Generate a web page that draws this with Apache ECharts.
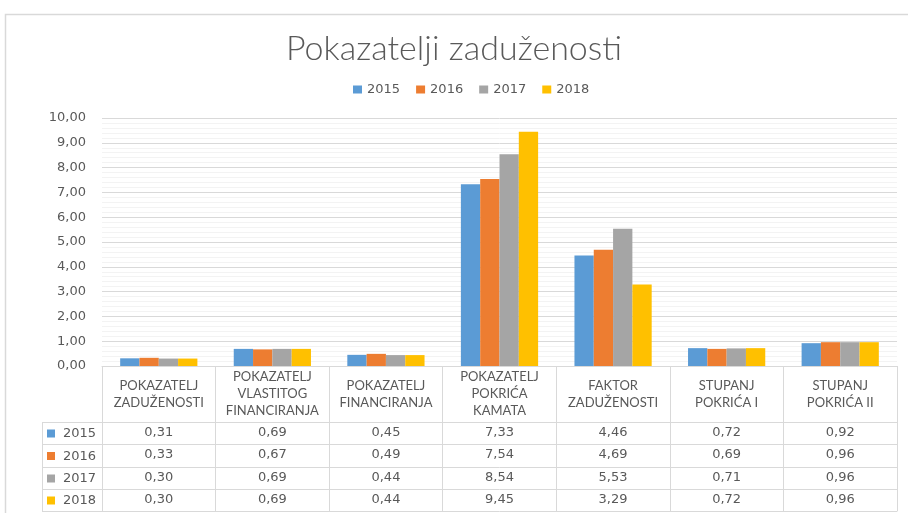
<!DOCTYPE html>
<html>
<head>
<meta charset="utf-8">
<script src="https://cdn.jsdelivr.net/npm/echarts@6/dist/echarts.min.js"></script>
<style>
  html, body { margin: 0; padding: 0; background: #fff; }
  #chart { width: 908px; height: 513px; }
</style>
</head>
<body>
<div id="chart"></div>
<script>
  var categories = ['POKAZATELJ\nZADUŽENOSTI', 'POKAZATELJ\nVLASTITOG\nFINANCIRANJA', 'POKAZATELJ\nFINANCIRANJA',
    'POKAZATELJ\nPOKRIĆA\nKAMATA', 'FAKTOR\nZADUŽENOSTI', 'STUPANJ\nPOKRIĆA I', 'STUPANJ\nPOKRIĆA II'];
  var years = ['2015', '2016', '2017', '2018'];
  var values2015 = [0.31, 0.69, 0.45, 7.33, 4.46, 0.72, 0.92];
  var values2016 = [0.33, 0.67, 0.49, 7.54, 4.69, 0.69, 0.96];
  var values2017 = [0.30, 0.69, 0.44, 8.54, 5.53, 0.71, 0.96];
  var values2018 = [0.30, 0.69, 0.44, 9.45, 3.29, 0.72, 0.96];
  var colors = ['#5B9BD5', '#ED7D31', '#A5A5A5', '#FFC000'];

  var rows = [values2015, values2016, values2017, values2018];
  var fmt = function (v) { return v.toFixed(2).replace('.', ','); };
  var font = 'Lato, "Noto Sans", sans-serif';
  var numFont = '"DejaVu Sans", sans-serif';
  var txt = '#595959';
  var lineCol = '#d9d9d9';

  var gridBottomY = 366;
  var headerH = 56;
  var rowOffsets = [56, 78, 101, 123];

  var xAxes = [{
    type: 'category',
    data: categories,
    axisLine: { lineStyle: { color: lineCol } },
    axisTick: { show: true, length: headerH, interval: 0, lineStyle: { color: lineCol } },
    axisLabel: {
      interval: 0, margin: 28, verticalAlign: 'middle', lineHeight: 17,
      fontFamily: font, fontSize: 13, color: txt
    }
  }];
  rows.forEach(function (vals, r) {
    xAxes.push({
      type: 'category',
      data: categories,
      position: 'bottom',
      offset: rowOffsets[r],
      axisLine: { lineStyle: { color: lineCol } },
      axisTick: { show: true, length: (r < 3 ? rowOffsets[r + 1] : 145) - rowOffsets[r], interval: 0, lineStyle: { color: lineCol } },
      axisLabel: {
        interval: 0, margin: 11, verticalAlign: 'middle',
        fontFamily: numFont, fontSize: 13, color: txt,
        formatter: function (v, i) { return fmt(vals[i]); }
      }
    });
  });
  // bottom border of the table
  xAxes.push({
    type: 'category', data: categories, position: 'bottom', offset: 145,
    axisLine: { lineStyle: { color: lineCol } },
    axisTick: { show: false }, axisLabel: { show: false }
  });

  // outer border + row label column of the data table
  var graphics = [{
    type: 'rect', silent: true,
    shape: { x: 5.5, y: 14.5, width: 940, height: 540 },
    style: { fill: 'none', stroke: lineCol, lineWidth: 1.5 }
  }];
  var lineYs = [422, 444, 467, 489, 511];
  lineYs.forEach(function (y) {
    graphics.push({ type: 'line', silent: true, shape: { x1: 42, y1: y + 0.5, x2: 102, y2: y + 0.5 }, style: { stroke: lineCol, lineWidth: 1 } });
  });
  graphics.push({ type: 'line', silent: true, shape: { x1: 42.5, y1: 422, x2: 42.5, y2: 511 }, style: { stroke: lineCol, lineWidth: 1 } });
  years.forEach(function (yr, i) {
    var cy = (lineYs[i] + lineYs[i + 1]) / 2;
    graphics.push({ type: 'rect', silent: true, shape: { x: 47, y: cy - 3.5, width: 8, height: 8 }, style: { fill: colors[i] } });
    graphics.push({ type: 'text', silent: true, x: 63, y: cy + 1, style: { text: yr, font: '13px ' + numFont, fill: txt, verticalAlign: 'middle' } });
  });

  var option = {
    animation: false,
    color: colors,
    title: {
      text: 'Pokazatelji zaduženosti',
      left: 'center', top: 27,
      textStyle: { fontFamily: font, fontWeight: 300, fontSize: 34, color: txt }
    },
    legend: {
      data: years,
      top: 78, left: 348,
      icon: 'rect', itemWidth: 9, itemHeight: 8, itemGap: 16,
      textStyle: { fontFamily: numFont, fontSize: 13, color: txt }
    },
    grid: { left: 102, right: 11, top: 118, bottom: 513 - gridBottomY },
    xAxis: xAxes,
    yAxis: {
      type: 'value', min: 0, max: 10, interval: 1,
      axisLine: { show: false }, axisTick: { show: false },
      axisLabel: { margin: 16, fontFamily: numFont, fontSize: 13, color: txt, formatter: fmt },
      splitLine: { lineStyle: { color: lineCol } },
      minorTick: { show: false, splitNumber: 5 },
      minorSplitLine: { show: true, lineStyle: { color: '#f3f3f3' } }
    },
    graphic: graphics,
    series: years.map(function (yr, i) {
      return {
        name: yr, type: 'bar', data: rows[i],
        barGap: 0, barCategoryGap: '32%'
      };
    })
  };

  var chart = echarts.init(document.getElementById('chart'));
  chart.setOption(option);
</script>
</body>
</html>
